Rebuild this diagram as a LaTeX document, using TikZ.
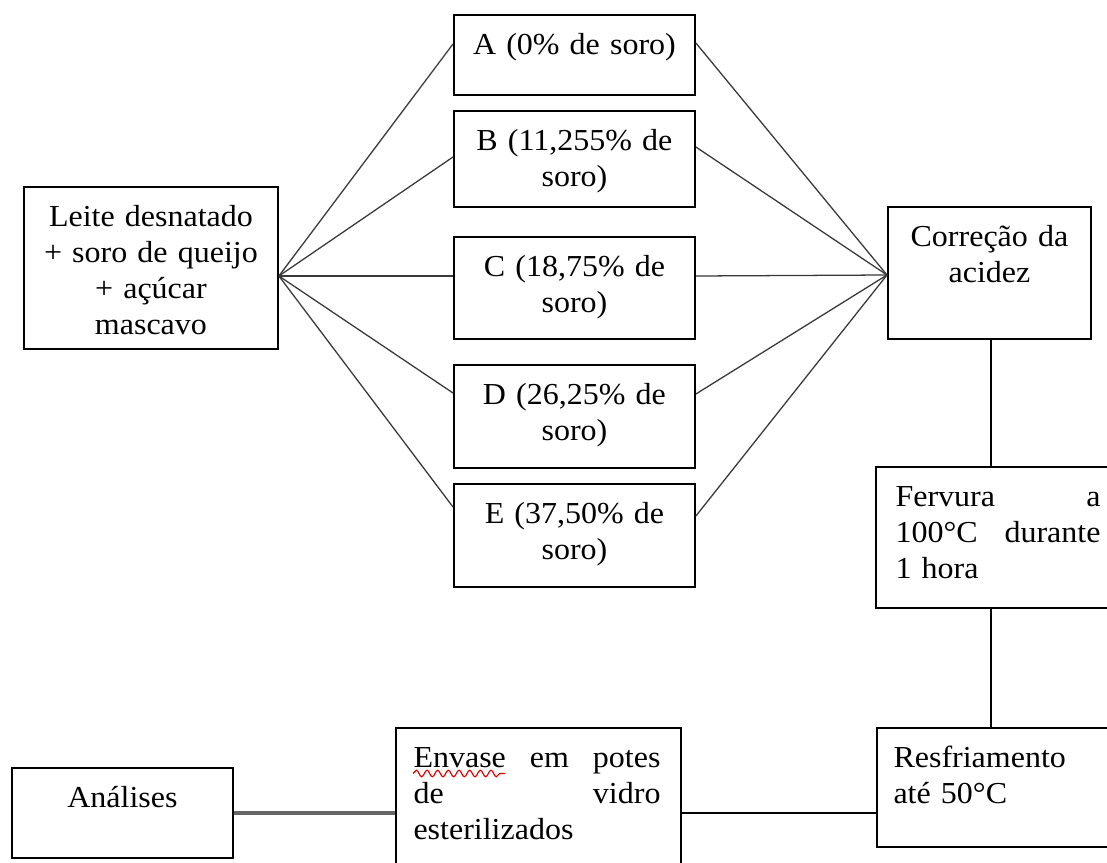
\documentclass[tikz,border=0pt]{standalone}
\usepackage{fontspec}
\setmainfont{Liberation Serif}[FakeStretch=1.05]
\usetikzlibrary{calc,decorations.pathmorphing}

% one drawing unit = one pixel of the layout grid
\def\pxu{0.3937pt}

\tikzset{
  box/.style={draw=black, line width=0.75pt, inner sep=0pt, anchor=north west},
  txt/.style={inner sep=0pt, font=\fontsize{12pt}{14.2pt}\selectfont,
              execute at begin node=\rule{0pt}{10pt}},
  ctxt/.style={txt, anchor=north, align=center},
  ltxt/.style={txt, anchor=north west, align=left},
  fan/.style={draw=black!78, line width=0.5pt},
  link/.style={draw=black, line width=0.6pt},
  heavylink/.style={draw=black!60, line width=1.3pt},
}

\begin{document}
\begin{tikzpicture}[x=\pxu, y=-\pxu]
\clip (0,0) rectangle (1107,863);
\fill[white] (0,0) rectangle (1107,863);

% ---- starting mixture -------------------------------------------------
\node[box, minimum width=254*\pxu, minimum height=162*\pxu] (mix) at (23,186) {};
\node[ctxt, text width=216*\pxu] (mixt) at ($(mix.north)+(0,14.6)$)
  {Leite desnatado\\+ soro de queijo\\+ açúcar\\mascavo};

% ---- the five formulations ----------------------------------------------
\node[box, minimum width=241*\pxu, minimum height=80*\pxu]  (fA) at (453,14)  {};
\node[box, minimum width=241*\pxu, minimum height=96*\pxu]  (fB) at (453,110) {};
\node[box, minimum width=241*\pxu, minimum height=102*\pxu] (fC) at (453,236) {};
\node[box, minimum width=241*\pxu, minimum height=103*\pxu] (fD) at (453,364) {};
\node[box, minimum width=241*\pxu, minimum height=103*\pxu] (fE) at (453,483) {};

\node[ctxt, text width=203*\pxu] (fAt) at ($(fA.north)+(0,14.6)$) {A (0\% de soro)};
\node[ctxt, text width=203*\pxu] (fBt) at ($(fB.north)+(0,14.6)$) {B (11,255\% de\\soro)};
\node[ctxt, text width=203*\pxu] (fCt) at ($(fC.north)+(0,14.6)$) {C (18,75\% de\\soro)};
\node[ctxt, text width=203*\pxu] (fDt) at ($(fD.north)+(0,14.6)$) {D (26,25\% de\\soro)};
\node[ctxt, text width=203*\pxu] (fEt) at ($(fE.north)+(0,14.6)$) {E (37,50\% de\\soro)};

% ---- processing steps ---------------------------------------------------
\node[box, minimum width=203*\pxu, minimum height=132*\pxu] (acid) at (887,206) {};
\node[ctxt, text width=165*\pxu] (acidt) at ($(acid.north)+(0,14.6)$) {Correção da\\acidez};

\node[box, minimum width=247*\pxu, minimum height=141*\pxu] (boil) at (875,466) {};
\node[ltxt, text width=205*\pxu] (boilt) at ($(boil.north west)+(20,14.6)$)
  {Fervura\hfill a\\100°C\hfill durante\\1 hora};

\node[box, minimum width=246*\pxu, minimum height=119*\pxu] (cool) at (876,727) {};
\node[ltxt, text width=205*\pxu] (coolt) at ($(cool.north west)+(17,14.6)$)
  {Resfriamento\\até 50°C};

\node[box, minimum width=285*\pxu, minimum height=160*\pxu] (jar) at (395,727) {};
\node[ltxt, text width=247*\pxu] (jart) at ($(jar.north west)+(18,14.6)$)
  {Envase\hfill em\hfill potes\\de\hfill vidro\\esterilizados};
% spell-check squiggle under the first word
\draw[red!85!black, line width=0.45pt,
      decorate, decoration={snake, amplitude=1.3, segment length=4.2}]
  (413,773.5) -- (505,773.5);

\node[box, minimum width=221*\pxu, minimum height=90*\pxu] (ana) at (11,767) {};
\node[ctxt, text width=183*\pxu] (anat) at ($(ana.north)+(0,14.6)$) {Análises};

% ---- connectors ---------------------------------------------------------
\foreach \f/\ya/\yb in {fA/44/43, fB/157/147, fC/276/276, fD/393/394, fE/507/516}{
  \draw[fan] (mix.east |- 0,276) -- (\f.west |- 0,\ya);
  \draw[fan] (\f.east |- 0,\yb) -- (acid.west |- 0,275);
}

\draw[link] ([xshift=1.5*\pxu]acid.south) -- ([xshift=1.5*\pxu]acid.south |- boil.north);
\draw[link] ([xshift=1.5*\pxu]acid.south |- boil.south) -- ([xshift=1.5*\pxu]acid.south |- cool.north);
\draw[link] (jar.east |- 0,813) -- (cool.west |- 0,813);
\draw[heavylink] (ana.east |- 0,813) -- (jar.west |- 0,813);
\end{tikzpicture}
\end{document}
